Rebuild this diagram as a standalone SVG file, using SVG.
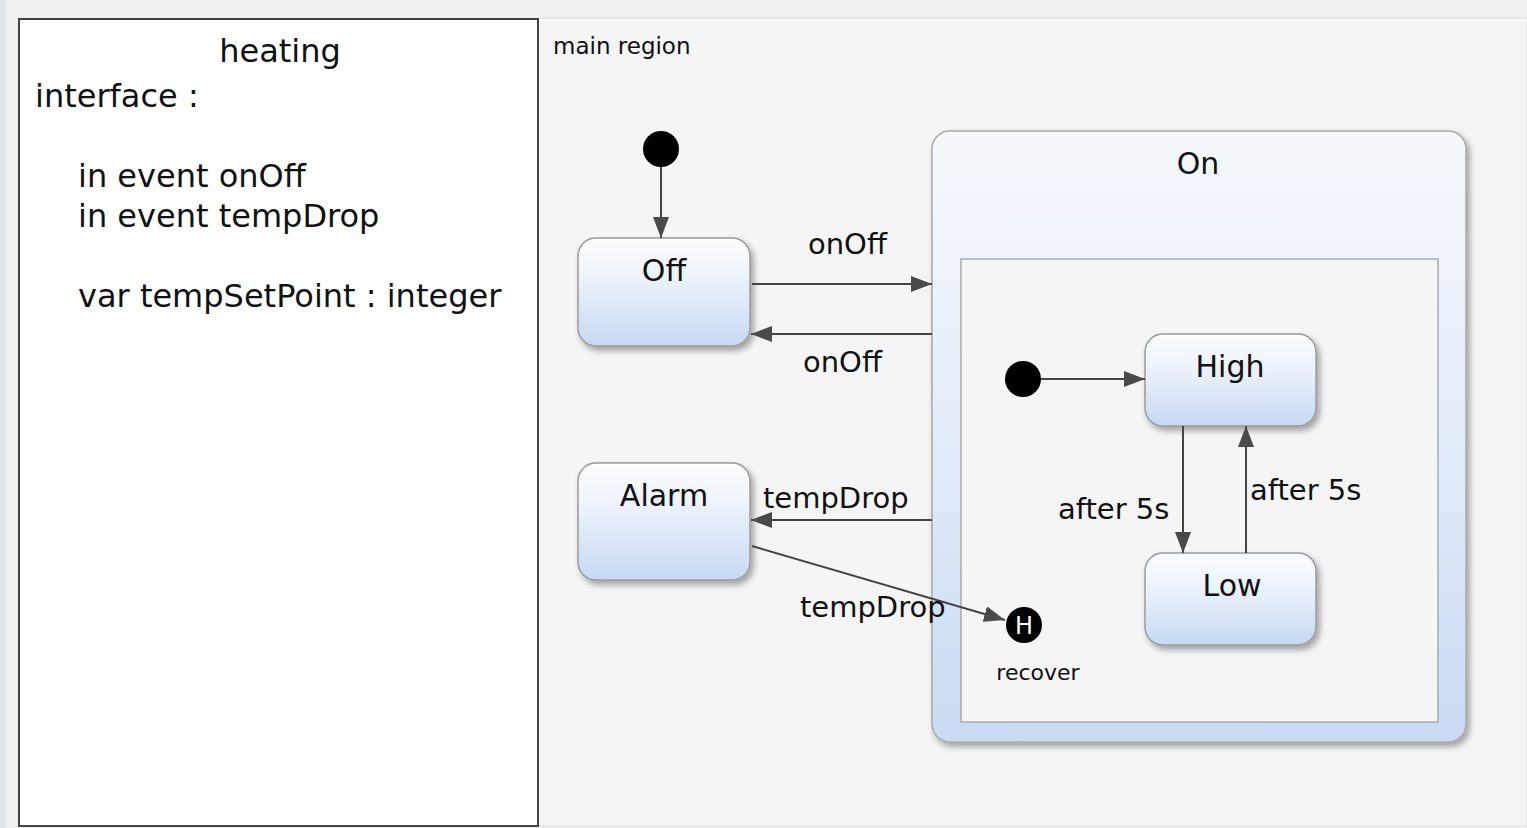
<svg xmlns="http://www.w3.org/2000/svg" width="1527" height="828" viewBox="0 0 1527 828">
<style>
.t{font-family:"DejaVu Sans",Verdana,sans-serif;fill:#111}
.panel{font-size:32px}
.name{font-size:30px;text-anchor:middle}
.lbl{font-size:29px}
.small{font-size:22px}
.state{stroke:#9a9a9a;stroke-width:1.5;fill:url(#sg)}
.edge{stroke:#444;stroke-width:2;fill:none;marker-end:url(#ah)}
</style>
<defs>
<linearGradient id="sg" x1="0" y1="0" x2="0" y2="1">
<stop offset="0" stop-color="#fbfcfe"/>
<stop offset="0.35" stop-color="#eef3fb"/>
<stop offset="1" stop-color="#c6d8f3"/>
</linearGradient>
<linearGradient id="og" x1="0" y1="0" x2="0" y2="1">
<stop offset="0" stop-color="#f6f8fc"/>
<stop offset="0.5" stop-color="#e3ecf9"/>
<stop offset="1" stop-color="#c9daf4"/>
</linearGradient>
<filter id="sh" x="-10%" y="-10%" width="130%" height="130%">
<feDropShadow dx="3" dy="4" stdDeviation="3" flood-color="#000" flood-opacity="0.35"/>
</filter>
<marker id="ah" markerUnits="userSpaceOnUse" markerWidth="24" markerHeight="18" refX="21" refY="8" orient="auto">
<path d="M0,0 L21,8 L0,16 Z" fill="#4a4a4a"/>
</marker>
</defs>
<rect x="0" y="0" width="1527" height="828" fill="#eef0f2"/>
<rect x="0" y="0" width="6" height="828" fill="#e2e6ea"/>
<g id="main-region">
<rect x="538" y="18" width="989" height="808" fill="#f5f5f5" stroke="#dcdcdc" stroke-width="1"/>
<text class="t" style="font-size:23px" x="553" y="54">main region</text>
</g>
<g id="interface-panel">
<rect x="19" y="19" width="519" height="807" fill="#fff" stroke="#444" stroke-width="2"/>
<text class="t panel" x="280" y="62" text-anchor="middle">heating</text>
<text class="t panel" x="35" y="107">interface :</text>
<text class="t panel" x="78" y="187">in event onOff</text>
<text class="t panel" x="78" y="227">in event tempDrop</text>
<text class="t panel" x="78" y="307">var tempSetPoint : integer</text>
</g>
<g id="On">
<rect x="932" y="131" width="534" height="611" rx="18" fill="url(#og)" stroke="#a8a8a8" stroke-width="1.5" filter="url(#sh)"/>
<text class="t name" x="1198" y="174">On</text>
<rect x="961" y="259" width="477" height="463" fill="#f5f5f5" stroke="#aaa" stroke-width="1.5"/>
</g>
<g id="initial-main">
<circle cx="661" cy="149" r="18" fill="#000"/>
</g>
<g id="Off">
<rect class="state" x="578" y="238" width="172" height="108" rx="18" filter="url(#sh)"/>
<text class="t name" x="664" y="281">Off</text>
</g>
<g id="Alarm">
<rect class="state" x="578" y="463" width="172" height="117" rx="18" filter="url(#sh)"/>
<text class="t name" x="664" y="506">Alarm</text>
</g>
<g id="initial-on">
<circle cx="1023" cy="379" r="18" fill="#000"/>
</g>
<g id="High">
<rect class="state" x="1145" y="334" width="171" height="92" rx="18" filter="url(#sh)"/>
<text class="t name" x="1230" y="377">High</text>
</g>
<g id="Low">
<rect class="state" x="1145" y="553" width="171" height="92" rx="18" filter="url(#sh)"/>
<text class="t name" x="1232" y="596">Low</text>
</g>
<g id="history-recover">
<circle cx="1024" cy="625" r="18" fill="#000"/>
<text x="1024" y="634" text-anchor="middle" style="font-family:'DejaVu Sans',sans-serif;font-size:24px;fill:#fff">H</text>
<text class="t small" x="1038" y="680" text-anchor="middle">recover</text>
</g>
<g id="connectors">
<path class="edge" d="M661,167 L661,238"/>
<path class="edge" d="M752,284 L932,284"/>
<text class="t lbl" x="808" y="254">onOff</text>
<path class="edge" d="M932,334 L751,334"/>
<text class="t lbl" x="803" y="372">onOff</text>
<path class="edge" d="M932,520 L751,520"/>
<text class="t lbl" x="763" y="508">tempDrop</text>
<path class="edge" d="M752,546 L1005,620"/>
<text class="t lbl" x="800" y="617">tempDrop</text>
<path class="edge" d="M1041,379 L1145,379"/>
<path class="edge" d="M1183,426 L1183,553"/>
<text class="t lbl" x="1058" y="519">after 5s</text>
<path class="edge" d="M1246,553 L1246,426"/>
<text class="t lbl" x="1250" y="500">after 5s</text>
</g>
</svg>
